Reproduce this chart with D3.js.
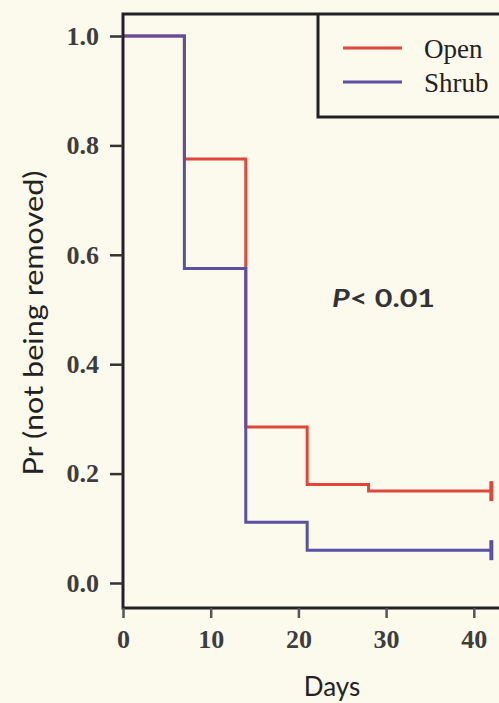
<!DOCTYPE html>
<html>
<head>
<meta charset="utf-8">
<script src="https://cdn.jsdelivr.net/npm/d3@7"></script>
<style>
  html, body { margin: 0; padding: 0; background: #fcf9ed; }
  svg { display: block; }
</style>
</head>
<body>
<svg width="499" height="703"></svg>
<script>
// Kaplan-Meier steps: day at which each level starts
var openDays   = [0, 7, 14, 21, 28];
var openSurv   = [1.0, 0.775, 0.285, 0.18, 0.168];
var shrubDays  = [0, 7, 14, 21];
var shrubSurv  = [1.0, 0.575, 0.111, 0.06];
var lastDay = 42;
var yTicks = [0, 0.2, 0.4, 0.6, 0.8, 1.0];
var xTicks = [0, 10, 20, 30, 40];
var seriesNames = ["Open", "Shrub"];
var seriesColors = ["#e0473a", "#5b51a3"];

var svg = d3.select("svg"),
    width = +svg.attr("width"),
    height = +svg.attr("height");

// scales (plot frame runs off the right edge, like the cropped original)
var x = d3.scaleLinear().domain([0, 10]).range([123, 210.7]);
var y = d3.scaleLinear().domain([0, 1]).range([583, 36]);

var frameTop = 14, frameBottom = 608, frameLeft = 123;
var serif = "'Liberation Serif', 'DejaVu Serif', serif";
var sans = "Lato, 'Open Sans', sans-serif";

svg.append("rect")
    .attr("width", width).attr("height", height)
    .attr("fill", "#fcf9ed");

// step paths
function stepData(days, surv) {
  var pts = days.map(function (d, i) { return [d, surv[i]]; });
  pts.push([lastDay, surv[surv.length - 1]]);
  return pts;
}
var line = d3.line()
    .x(function (d) { return x(d[0]); })
    .y(function (d) { return y(d[1]); })
    .curve(d3.curveStepAfter);

var series = [stepData(openDays, openSurv), stepData(shrubDays, shrubSurv)];

series.forEach(function (pts, i) {
  svg.append("path")
      .attr("d", line(pts))
      .attr("fill", "none")
      .attr("stroke", seriesColors[i])
      .attr("stroke-width", 3);
  // censor mark at the end
  var last = pts[pts.length - 1];
  svg.append("line")
      .attr("x1", x(last[0])).attr("x2", x(last[0]))
      .attr("y1", y(last[1]) - 10).attr("y2", y(last[1]) + 10)
      .attr("stroke", seriesColors[i])
      .attr("stroke-width", 4);
});

// frame: left, top and bottom lines
svg.append("path")
    .attr("d", "M" + (width + 5) + "," + frameTop + "H" + frameLeft + "V" + frameBottom + "H" + (width + 5))
    .attr("fill", "none")
    .attr("stroke", "#222")
    .attr("stroke-width", 3);

// y axis ticks
var yAxis = d3.axisLeft(y)
    .tickValues(yTicks)
    .tickFormat(d3.format(".1f"))
    .tickSize(13)
    .tickPadding(11);
var gy = svg.append("g")
    .attr("transform", "translate(" + frameLeft + ",0)")
    .call(yAxis);
gy.select(".domain").remove();
gy.selectAll("line").attr("stroke", "#333").attr("stroke-width", 2.5);
gy.selectAll("text")
    .style("font-family", serif)
    .style("font-size", "26px")
    .style("font-weight", "bold")
    .attr("fill", "#3d3d3d");

// x axis ticks
var xAxis = d3.axisBottom(x)
    .tickValues(xTicks)
    .tickFormat(d3.format("d"))
    .tickSize(10)
    .tickPadding(12);
var gx = svg.append("g")
    .attr("transform", "translate(0," + frameBottom + ")")
    .call(xAxis);
gx.select(".domain").remove();
gx.selectAll("line").attr("stroke", "#555").attr("stroke-width", 2.5);
gx.selectAll("text")
    .style("font-family", serif)
    .style("font-size", "26px")
    .style("font-weight", "bold")
    .attr("fill", "#3d3d3d");

// axis titles
svg.append("text")
    .attr("transform", "translate(43,323) rotate(-90)")
    .attr("text-anchor", "middle")
    .attr("font-family", sans)
    .attr("font-size", 26)
    .attr("fill", "#222")
    .attr("textLength", 305)
    .attr("lengthAdjust", "spacingAndGlyphs")
    .text("Pr (not being removed)");

svg.append("text")
    .attr("x", 332).attr("y", 696)
    .attr("text-anchor", "middle")
    .attr("font-family", sans)
    .attr("font-size", 26)
    .attr("fill", "#222")
    .text("Days");

// p-value annotation
var pt = svg.append("text")
    .attr("x", 332).attr("y", 307)
    .attr("font-family", sans)
    .attr("font-size", 24)
    .attr("font-weight", "bold")
    .attr("fill", "#333")
    .attr("textLength", 103)
    .attr("lengthAdjust", "spacingAndGlyphs");
pt.append("tspan").attr("font-style", "italic").text("P");
pt.append("tspan").text("< 0.01");

// legend box
svg.append("path")
    .attr("d", "M318," + frameTop + "V117H" + (width + 5))
    .attr("fill", "none")
    .attr("stroke", "#222")
    .attr("stroke-width", 3);

var legend = svg.append("g").selectAll("g")
    .data(seriesNames)
    .enter().append("g")
    .attr("transform", function (d, i) { return "translate(0," + (48 + i * 34) + ")"; });
legend.append("line")
    .attr("x1", 343).attr("x2", 402)
    .attr("stroke", function (d, i) { return seriesColors[i]; })
    .attr("stroke-width", 3);
legend.append("text")
    .attr("x", 424).attr("y", 10)
    .attr("font-family", serif)
    .attr("font-size", 27)
    .attr("fill", "#222")
    .text(function (d) { return d; });
</script>
</body>
</html>
